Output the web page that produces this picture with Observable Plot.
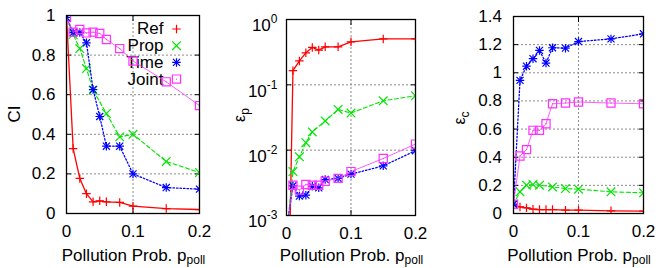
<!DOCTYPE html>
<html><head><meta charset="utf-8">
<script src="https://cdn.jsdelivr.net/npm/d3@7"></script>
<script src="https://cdn.jsdelivr.net/npm/@observablehq/plot@0.6"></script>
<style>
body{margin:0;background:#fff;}
#wrap{position:relative;width:660px;height:268px;font-family:"Liberation Sans",Arial,Helvetica,sans-serif;}
.panel{position:absolute;top:0;width:220px;height:268px;}
</style></head><body><div id="wrap"></div>
<script>
// ---- data ----
const xAll = [0, 0.01, 0.02, 0.03, 0.04, 0.05, 0.06, 0.08, 0.1, 0.15, 0.2];
const xProp = [0, 0.01, 0.02, 0.03, 0.04, 0.06, 0.08, 0.1, 0.15, 0.2];
const seriesNames = ["Ref", "Prop", "Time", "Joint"];

const xTicks = [0, 0.1, 0.2];
const xTickLabels = ["0", "0.1", "0.2"];
const ciTicks = [0, 0.2, 0.4, 0.6, 0.8, 1];
const ciTickLabels = ["0", "0.2", "0.4", "0.6", "0.8", "1"];
const epTicks = [1e-3, 1e-2, 1e-1, 1];
const epTickLabels = ["10^-3", "10^-2", "10^-1", "10^0"];
const ecTicks = [0, 0.2, 0.4, 0.6, 0.8, 1, 1.2, 1.4];
const ecTickLabels = ["0", "0.2", "0.4", "0.6", "0.8", "1", "1.2", "1.4"];

// CI
const ciRef   = [1.0, 0.328, 0.177, 0.10, 0.059, 0.064, 0.059, 0.056, 0.037, 0.025, 0.02];
const ciProp  = [0.99, 0.904, 0.833, 0.732, 0.623, 0.505, 0.387, 0.40, 0.263, 0.207];
const ciTime  = [0.99, 0.914, 0.914, 0.862, 0.626, 0.49, 0.34, 0.34, 0.2, 0.131, 0.123];
const ciJoint = [0.99, 0.916, 0.929, 0.912, 0.916, 0.909, 0.879, 0.833, 0.77, 0.665, 0.545];
// epsilon_p
const epRef   = [1e-6, 0.165, 0.232, 0.309, 0.374, 0.34, 0.382, 0.382, 0.455, 0.505, 0.506];
const epProp  = [5e-4, 4.7e-3, 7.9e-3, 1.3e-2, 1.9e-2, 2.8e-2, 4.2e-2, 3.7e-2, 5.7e-2, 6.8e-2];
const epTime  = [6e-4, 2.85e-3, 1.98e-3, 2.05e-3, 2.8e-3, 2.65e-3, 3.55e-3, 3.7e-3, 4.3e-3, 5.75e-3, 9.8e-3];
const epJoint = [6e-4, 2.9e-3, 2.45e-3, 2.98e-3, 2.9e-3, 2.9e-3, 3.35e-3, 3.7e-3, 4.7e-3, 7.45e-3, 1.24e-2];
// epsilon_c
const ecRef   = [0.06, 0.047, 0.04, 0.031, 0.028, 0.028, 0.028, 0.024, 0.024, 0.019, 0.017];
const ecProp  = [0.066, 0.154, 0.201, 0.206, 0.201, 0.189, 0.177, 0.173, 0.154, 0.147];
const ecTime  = [0.066, 0.946, 1.047, 1.1, 1.159, 1.069, 1.178, 1.175, 1.222, 1.241, 1.277];
const ecJoint = [0.066, 0.409, 0.454, 0.591, 0.591, 0.638, 0.78, 0.785, 0.792, 0.785, 0.78];

// ---- styles ----
const styles = {
  Ref:   {stroke: "#ff0000", dash: null,    lw: 1.3, marks: [["plus", 2.85]]},
  Prop:  {stroke: "#00e600", dash: "4,2.5", lw: 1.1, marks: [["times", 4.0]]},
  Time:  {stroke: "#0000ff", dash: "1.5,2", lw: 1.3, marks: [["plus", 2.85], ["times", 3.3]]},
  Joint: {stroke: "#ff33ff", dash: null,    lw: 0.8, marks: [["square2", 5.2]]}
};

function makePanel(cfg) {
  const rows = [];
  for (const name of seriesNames) {
    const xs = name === "Prop" ? xProp : xAll;
    cfg.values[name].forEach((v, i) => rows.push({s: name, x: xs[i], y: v}));
  }
  const yDom = cfg.y.domain;
  const marks = [];
  marks.push(Plot.ruleY(cfg.yTicks.filter(t => t > yDom[0] && t < yDom[1]), {stroke: "#8a8a8a", strokeDasharray: "2,2", strokeWidth: 1}));
  marks.push(Plot.ruleX(xTicks.filter(t => t > 0 && t < 0.2), {stroke: "#8a8a8a", strokeDasharray: "2,2", strokeWidth: 1}));
  // labels
  marks.push(Plot.axisY(cfg.yTicks, {anchor: "left", tickSize: 0, tickPadding: cfg.yPad, label: null,
    tickFormat: d => cfg.yTickLabels[cfg.yTicks.indexOf(d)], fill: "#000"}));
  marks.push(Plot.axisX(xTicks, {anchor: "bottom", tickSize: 0, tickPadding: 11, label: null,
    tickFormat: d => xTickLabels[xTicks.indexOf(d)], fill: "#000"}));
  // inward tick marks
  marks.push(Plot.axisY(cfg.yTicks, {anchor: "left", tickSize: 5, dx: 5, tickFormat: () => "", label: null, stroke: "#000"}));
  marks.push(Plot.axisY(cfg.yTicks, {anchor: "right", tickSize: 5, dx: -5, tickFormat: () => "", label: null, stroke: "#000"}));
  marks.push(Plot.axisX(xTicks, {anchor: "bottom", tickSize: 5, dy: -5, tickFormat: () => "", label: null, stroke: "#000"}));
  marks.push(Plot.axisX(xTicks, {anchor: "top", tickSize: 5, dy: 5, tickFormat: () => "", label: null, stroke: "#000"}));
  // legend
  if (cfg.legend) {
    seriesNames.forEach((name, i) => {
      marks.push(Plot.text([name], {frameAnchor: "top-right", text: d => d, dx: -36, dy: 13.5 + i * 16.7,
        textAnchor: "end", lineAnchor: "middle", fontSize: 17, fill: "#000"}));
      for (const [sym, r] of styles[name].marks) {
        marks.push(Plot.dot([name], {frameAnchor: "top-right", dx: -23, dy: 13.5 + i * 16.7, symbol: sym, r,
          stroke: styles[name].stroke, strokeWidth: 1.2, fill: "none"}));
      }
      if (name === "Joint") marks.push(Plot.dot([name], {frameAnchor: "top-right", dx: -23, dy: 13.5 + i * 16.7, r: 0.7, fill: styles[name].stroke, stroke: "none"}));
    });
  }
  // data
  for (const name of seriesNames) {
    const st = styles[name];
    const d = rows.filter(r => r.s === name);
    marks.push(Plot.line(d, {x: "x", y: "y", stroke: st.stroke, strokeWidth: st.lw, strokeDasharray: st.dash, clip: true}));
    for (const [sym, r] of st.marks) {
      marks.push(Plot.dot(d, {x: "x", y: "y", symbol: sym, r, stroke: st.stroke, strokeWidth: 1.2, fill: "none", clip: true}));
    }
    if (name === "Joint") marks.push(Plot.dot(d, {x: "x", y: "y", r: 0.7, fill: st.stroke, stroke: "none", clip: true}));
  }
  marks.push(Plot.frame({stroke: "#000", strokeWidth: 1.3}));

  const svg = Plot.plot({
    width: 220, height: 268,
    marginLeft: cfg.m[0], marginRight: cfg.m[1], marginTop: cfg.m[2], marginBottom: cfg.m[3],
    x: {domain: [0, 0.2]},
    y: cfg.y,
    style: {fontFamily: '"Liberation Sans", Arial, Helvetica, sans-serif', fontSize: "17px", background: "transparent", color: "#000", overflow: "visible"},
    marks
  });

  // superscripts on log tick labels
  d3.select(svg).selectAll("text").each(function() {
    const t = this.textContent;
    if (t.startsWith("10^")) {
      const exp = t.slice(3);
      const sel = d3.select(this);
      sel.text("");
      sel.append("tspan").text("10");
      sel.append("tspan").attr("dy", "-8").attr("font-size", "12px").text(exp);
      const tr = sel.attr("transform") || "";
      sel.attr("transform", tr + " translate(0,6.5)");
    }
  });

  const g = d3.select(svg);
  const fw = 220 - cfg.m[0] - cfg.m[1];
  const fcx = cfg.m[0] + fw / 2 + 1;
  // x label
  const xl = g.append("text").attr("x", fcx).attr("y", 260.5).attr("text-anchor", "middle")
    .attr("font-size", "17px").attr("fill", "#000");
  xl.append("tspan").text("Pollution Prob. p");
  xl.append("tspan").attr("dy", "3").attr("font-size", "12px").text("poll");
  // y label
  const yl = g.append("text").attr("transform", `translate(${cfg.yl[0]},${cfg.yl[1]}) rotate(-90)`)
    .attr("text-anchor", "middle").attr("fill", "#000");
  if (cfg.ylabel[1]) {
    yl.append("tspan").attr("font-size", "16px").text(cfg.ylabel[0]);
    yl.append("tspan").attr("font-size", "12px").attr("dy", "4").text(cfg.ylabel[1]);
  } else {
    yl.attr("font-size", "17px").text(cfg.ylabel[0]);
  }

  const div = document.createElement("div");
  div.className = "panel";
  div.style.left = cfg.left + "px";
  div.appendChild(svg);
  document.getElementById("wrap").appendChild(div);
}

makePanel({
  left: 0, m: [66, 21, 15, 55], y: {domain: [0, 1]}, yTicks: ciTicks, yTickLabels: ciTickLabels, yPad: 11,
  values: {Ref: ciRef, Prop: ciProp, Time: ciTime, Joint: ciJoint}, legend: true, ylabel: ["CI"], yl: [20, 114]
});
makePanel({
  left: 220, m: [66, 25, 19, 53], y: {type: "log", domain: [1e-3, 1]}, yTicks: epTicks, yTickLabels: epTickLabels, yPad: 9,
  values: {Ref: epRef, Prop: epProp, Time: epTime, Joint: epJoint}, legend: false, ylabel: ["ε", "p"], yl: [25, 115]
});
makePanel({
  left: 440, m: [73, 17, 16, 55], y: {domain: [0, 1.4]}, yTicks: ecTicks, yTickLabels: ecTickLabels, yPad: 11.5,
  values: {Ref: ecRef, Prop: ecProp, Time: ecTime, Joint: ecJoint}, legend: false, ylabel: ["ε", "c"], yl: [25, 118]
});
</script></body></html>
